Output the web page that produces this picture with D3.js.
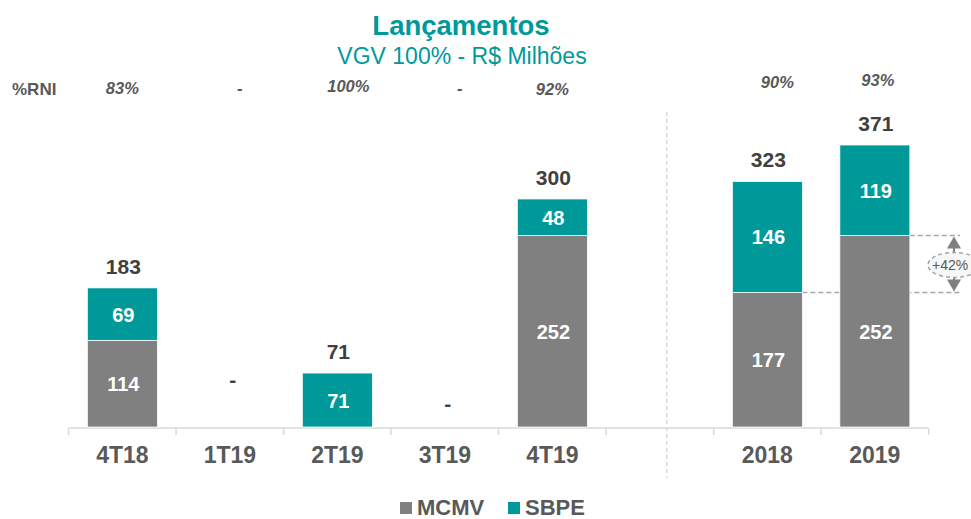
<!DOCTYPE html>
<html>
<head>
<meta charset="utf-8">
<script src="https://cdn.jsdelivr.net/npm/d3@7/dist/d3.min.js"></script>
<style>
  html, body { margin: 0; padding: 0; background: #fff; }
  svg { display: block; font-family: "Liberation Sans", Arial, sans-serif; }
</style>
</head>
<body>
<svg id="chart" width="971" height="519"></svg>
<script>
// ---- data ----
const slots      = ["4T18", "1T19", "2T19", "3T19", "4T19", "", "2018", "2019"];
const categories = ["4T18", "1T19", "2T19", "3T19", "4T19", "2018", "2019"];
const mcmv       = [114, 0, 0, 0, 252, 177, 252];
const sbpe       = [69, 0, 71, 0, 48, 146, 119];
const totals     = ["183", "-", "71", "-", "300", "323", "371"];
const rni        = ["83%", "-", "100%", "-", "92%", "90%", "93%"];
const growthLabel = "+42%";
const seriesNames = ["MCMV", "SBPE"];

const colors = { MCMV: "#808080", SBPE: "#009999" };
const textDark = "#404040";
const textGray = "#595959";

const svg = d3.select("#chart");

const x = d3.scaleBand().domain(slots).range([68.6, 928.6]).paddingInner(0).paddingOuter(0);
const y = d3.scaleLinear().domain([0, 371]).range([427, 145]);
const barW = 70;

// title
svg.append("text").attr("x", 461).attr("y", 35).attr("text-anchor", "middle")
  .attr("font-size", 27.5).attr("font-weight", "bold").attr("fill", "#009999").text("Lançamentos");
svg.append("text").attr("x", 462).attr("y", 64).attr("text-anchor", "middle")
  .attr("font-size", 23).attr("fill", "#009999").text("VGV 100% - R$ Milhões");

// %RNI row
svg.append("text").attr("x", 12).attr("y", 95).attr("font-size", 17).attr("font-weight", "bold")
  .attr("fill", textGray).text("%RNI");
const rniDy = [0, 0, -2, 0, 1, -6, -8];
const rniDx = [0, 10, 11, 15, 0, 10, 3];
categories.forEach((c, i) => {
  svg.append("text").attr("x", x(c) + x.bandwidth() / 2 + rniDx[i]).attr("y", 94 + rniDy[i])
    .attr("text-anchor", "middle").attr("font-size", 16.5).attr("font-weight", "bold")
    .attr("font-style", "italic").attr("fill", textGray).text(rni[i]);
});

// divider dashed line
const divX = x("") + x.bandwidth() / 2 + 7;
svg.append("line").attr("x1", divX).attr("x2", divX).attr("y1", 112).attr("y2", 478)
  .attr("stroke", "#c8c8c8").attr("stroke-width", 1).attr("stroke-dasharray", "4,3");

// axis
const axisG = svg.append("g").attr("transform", `translate(0,${y(0) + 1})`);
axisG.append("line").attr("x1", x.range()[0]).attr("x2", x.range()[1])
  .attr("stroke", "#d9d9d9").attr("stroke-width", 1.5);
const tickXs = slots.map(s => x(s)).concat([x.range()[1]]);
axisG.selectAll("line.tick").data(tickXs).enter().append("line").attr("class", "tick")
  .attr("x1", d => d).attr("x2", d => d).attr("y1", 0).attr("y2", 7)
  .attr("stroke", "#d9d9d9").attr("stroke-width", 1.5);
categories.forEach(c => {
  svg.append("text").attr("x", x(c) + x.bandwidth() / 2).attr("y", 463)
    .attr("text-anchor", "middle").attr("font-size", 23).attr("font-weight", "bold")
    .attr("fill", textGray).text(c);
});

// annotation lines (behind bars)
const iA = categories.indexOf("2018"), iB = categories.indexOf("2019");
const cxA = x("2018") + x.bandwidth() / 2, cxB = x("2019") + x.bandwidth() / 2;
const annX = 954;
svg.append("line").attr("x1", cxA + barW / 2).attr("x2", annX + 6).attr("y1", y(mcmv[iA])).attr("y2", y(mcmv[iA]))
  .attr("stroke", "#a6a6a6").attr("stroke-width", 1.5).attr("stroke-dasharray", "5,3");
svg.append("line").attr("x1", cxB + barW / 2).attr("x2", annX + 6).attr("y1", y(mcmv[iB])).attr("y2", y(mcmv[iB]))
  .attr("stroke", "#a6a6a6").attr("stroke-width", 1.5).attr("stroke-dasharray", "5,3");

// bars
categories.forEach((c, i) => {
  const cx = x(c) + x.bandwidth() / 2;
  const g = svg.append("g");
  if (mcmv[i] > 0) {
    g.append("rect").attr("x", cx - barW / 2).attr("width", barW)
      .attr("y", y(mcmv[i])).attr("height", y(0) - y(mcmv[i]))
      .attr("fill", colors.MCMV).attr("stroke", "#fff").attr("stroke-width", 0.75);
    g.append("text").attr("x", cx + 1).attr("y", (y(mcmv[i]) + y(0)) / 2 + 7.5)
      .attr("text-anchor", "middle").attr("font-size", 20).attr("font-weight", "bold")
      .attr("fill", "#fff").text(mcmv[i]);
  }
  if (sbpe[i] > 0) {
    const y0 = y(mcmv[i]), y1 = y(mcmv[i] + sbpe[i]);
    g.append("rect").attr("x", cx - barW / 2).attr("width", barW)
      .attr("y", y1).attr("height", y0 - y1)
      .attr("fill", colors.SBPE).attr("stroke", "#fff").attr("stroke-width", 0.75);
    g.append("text").attr("x", cx + 1).attr("y", (y0 + y1) / 2 + 7.5)
      .attr("text-anchor", "middle").attr("font-size", 20).attr("font-weight", "bold")
      .attr("fill", "#fff").text(sbpe[i]);
  }
  const tot = mcmv[i] + sbpe[i];
  let ty = y(tot) - 14;
  let tx = cx + 1;
  if (tot === 0) { ty = (c === "1T19") ? y(0) - 40 : y(0) - 16; tx = cx + 3; }
  svg.append("text").attr("x", tx).attr("y", ty)
    .attr("text-anchor", "middle").attr("font-size", 21).attr("font-weight", "bold")
    .attr("fill", textDark).text(totals[i]);
});

// growth annotation: double arrow + dashed ellipse
const yTop = y(mcmv[iB]), yBot = y(mcmv[iA]);
const midY = (yTop + yBot) / 2 + 1;
svg.append("line").attr("x1", annX).attr("x2", annX).attr("y1", yTop + 12).attr("y2", yBot - 12)
  .attr("stroke", "#7f7f7f").attr("stroke-width", 2);
svg.append("path").attr("d", `M${annX},${yTop + 1} L${annX - 7},${yTop + 13} L${annX + 7},${yTop + 13} Z`).attr("fill", "#7f7f7f");
svg.append("path").attr("d", `M${annX},${yBot - 1} L${annX - 7},${yBot - 13} L${annX + 7},${yBot - 13} Z`).attr("fill", "#7f7f7f");
svg.append("ellipse").attr("cx", annX).attr("cy", midY).attr("rx", 26).attr("ry", 12.5)
  .attr("fill", "#f7f7f7").attr("stroke", "#a6a6a6").attr("stroke-width", 1.5).attr("stroke-dasharray", "4,3");
svg.append("text").attr("x", 932).attr("y", midY + 5).attr("font-size", 14)
  .attr("fill", textGray).text(growthLabel);

// legend
const legX = [400, 508];
seriesNames.forEach((s, i) => {
  svg.append("rect").attr("x", legX[i]).attr("y", 502).attr("width", 12).attr("height", 12).attr("fill", colors[s]);
  svg.append("text").attr("x", legX[i] + 17).attr("y", 515).attr("font-size", 22).attr("font-weight", "bold")
    .attr("fill", textGray).text(s);
});
</script>
</body>
</html>
